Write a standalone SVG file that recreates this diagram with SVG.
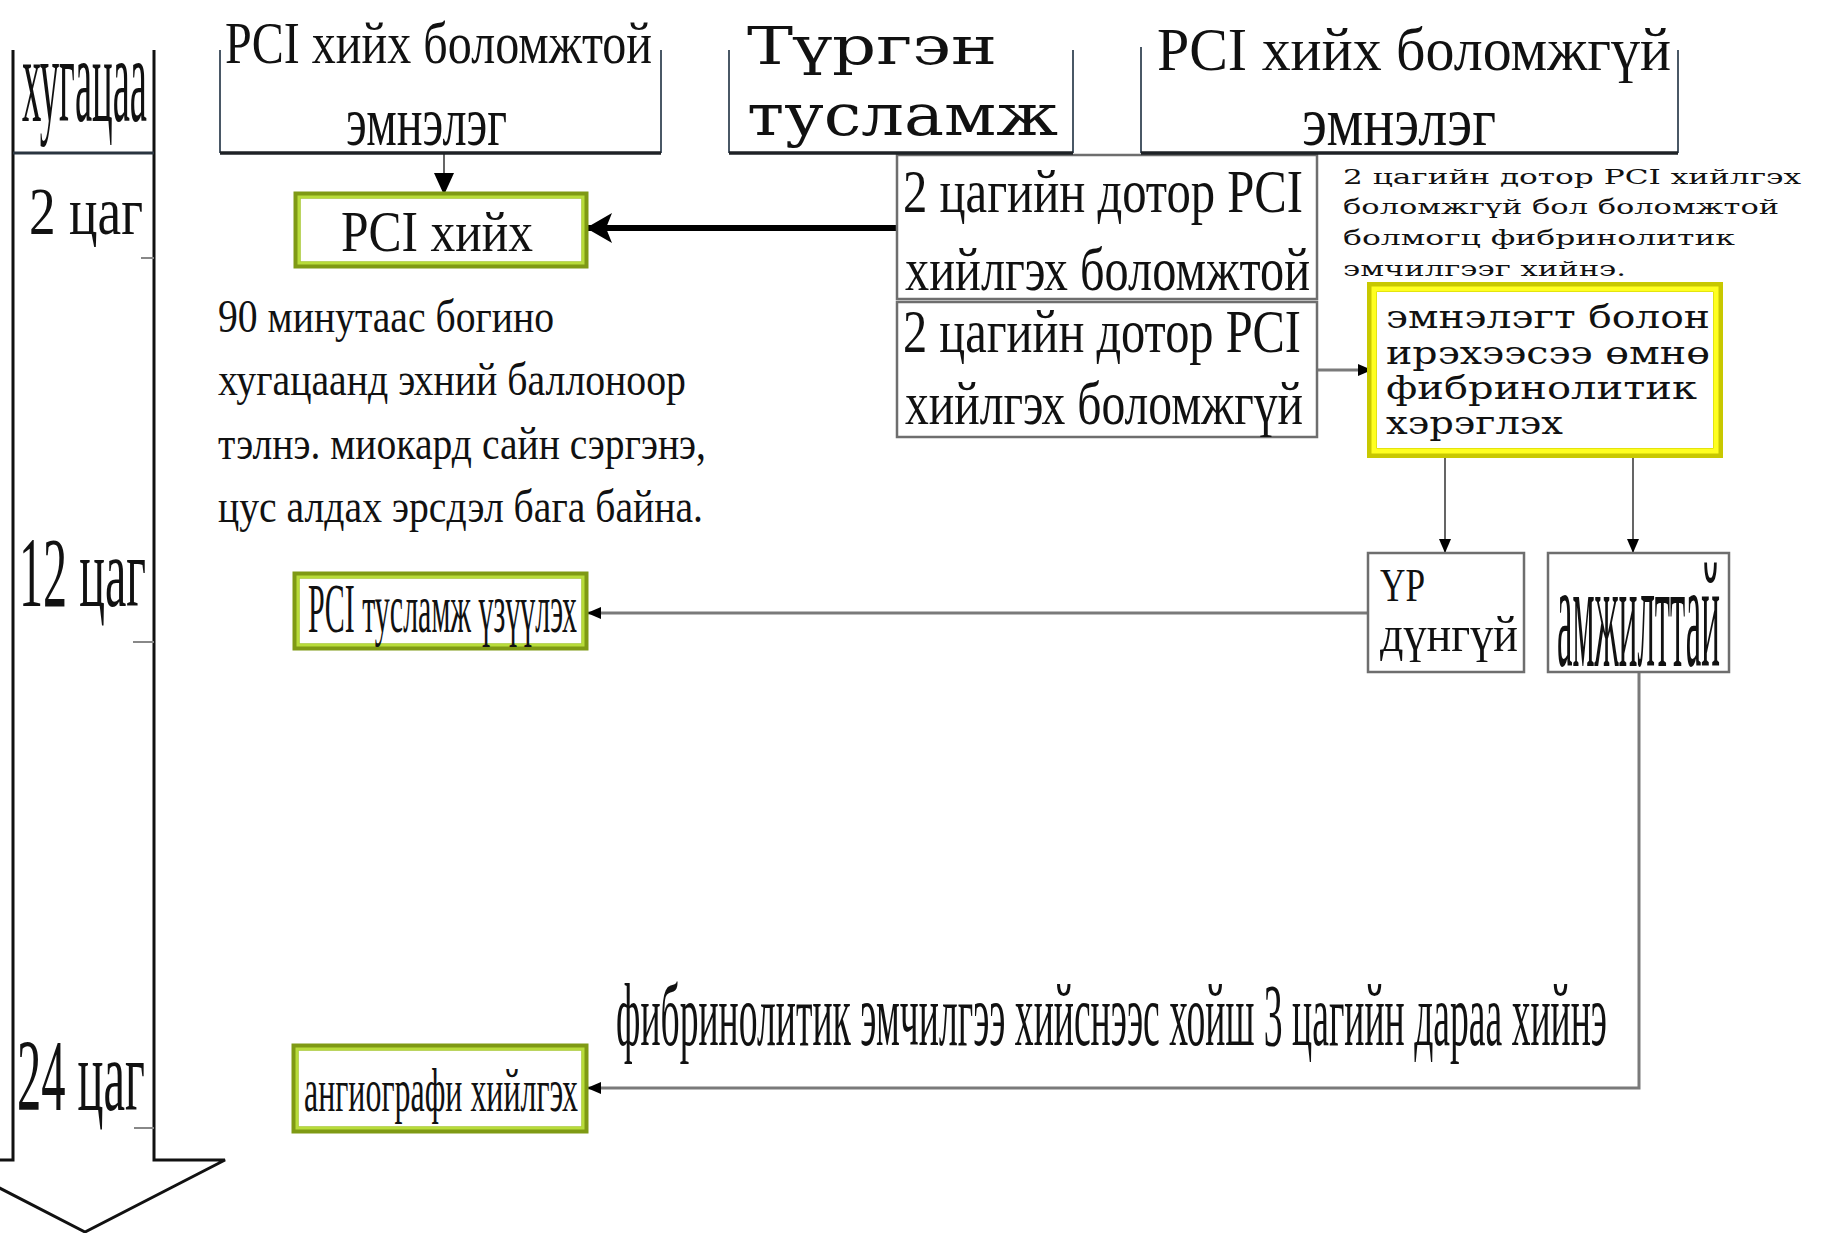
<svg xmlns="http://www.w3.org/2000/svg" width="1824" height="1233" viewBox="0 0 1824 1233">
<style>
.ts{font-family:"Liberation Serif","Times New Roman",serif;fill:#111}
.ws{font-family:"DejaVu Serif","Liberation Serif",serif;fill:#111}
.br{fill:none;stroke:#4a5866;stroke-width:2}
.brb{fill:none;stroke:#1e2226;stroke-width:3.5}
.box{fill:#fff;stroke:#6e6e6e;stroke-width:2.5}
.gOut{fill:#fff;stroke:#7f9a14;stroke-width:7}
.gIn{fill:none;stroke:#b8dc3a;stroke-width:3}
.yOut{fill:#fff;stroke:#c8c800;stroke-width:10}
.yIn{fill:none;stroke:#ffff20;stroke-width:5}
.con{fill:none;stroke:#7a7a7a;stroke-width:3}
.thin{fill:none;stroke:#555;stroke-width:1.8}
.tick{stroke:#888;stroke-width:2}
</style>
<defs>
<marker id="big" markerUnits="userSpaceOnUse" viewBox="0 0 26 30" refX="25" refY="15" markerWidth="26" markerHeight="30" orient="auto">
<path d="M0,0 L26,15 L0,30 L6,15 z" fill="#000"/>
</marker>
<marker id="mid" markerUnits="userSpaceOnUse" viewBox="0 0 22 20" refX="22" refY="10" markerWidth="22" markerHeight="20" orient="auto">
<path d="M0,0 L22,10 L0,20 z" fill="#000"/>
</marker>
<marker id="sm" markerUnits="userSpaceOnUse" viewBox="0 0 14 12" refX="14" refY="6" markerWidth="14" markerHeight="12" orient="auto">
<path d="M0,0 L14,6 L0,12 z" fill="#000"/>
</marker>
</defs>
<rect width="1824" height="1233" fill="#fff"/>

<g id="time-axis">
<path d="M13,50 V1160 H-55 L85,1232 L225,1160 H154 V50" fill="none" stroke="#111" stroke-width="3"/>
<line x1="13" y1="153" x2="154" y2="153" stroke="#2a3540" stroke-width="3"/>
<line class="tick" x1="141" y1="258" x2="154" y2="258"/>
<line class="tick" x1="133" y1="642" x2="154" y2="642"/>
<line class="tick" x1="134" y1="1128" x2="154" y2="1128"/>
<text class="ts" x="22" y="121" font-size="122" textLength="125" lengthAdjust="spacingAndGlyphs">хугацаа</text>
<text class="ts" x="29" y="234" font-size="68" textLength="114" lengthAdjust="spacingAndGlyphs">2 цаг</text>
<text class="ts" x="19" y="606" font-size="100" textLength="127" lengthAdjust="spacingAndGlyphs">12 цаг</text>
<text class="ts" x="17" y="1110" font-size="102" textLength="128" lengthAdjust="spacingAndGlyphs">24 цаг</text>
</g>

<g id="connectors">
<line class="thin" x1="444" y1="153" x2="444" y2="195" marker-end="url(#mid)"/>
<line x1="897" y1="228" x2="587" y2="228" stroke="#000" stroke-width="6" marker-end="url(#big)"/>
<line class="con" x1="1317" y1="370" x2="1372" y2="370" marker-end="url(#sm)"/>
<line class="thin" x1="1445" y1="453" x2="1445" y2="553" marker-end="url(#sm)"/>
<line class="thin" x1="1633" y1="453" x2="1633" y2="553" marker-end="url(#sm)"/>
<line class="con" x1="1368" y1="613" x2="587" y2="613" marker-end="url(#sm)"/>
<polyline class="con" points="1639,672 1639,1088 587,1088" marker-end="url(#sm)"/>
</g>

<g id="box-a">
<rect class="box" x="897" y="155" width="420" height="144"/>
<text class="ts" x="903" y="212" font-size="62" textLength="400" lengthAdjust="spacingAndGlyphs">2 цагийн дотор PCI</text>
<text class="ts" x="905" y="290" font-size="62" textLength="405" lengthAdjust="spacingAndGlyphs">хийлгэх боломжтой</text>
</g>

<g id="box-b">
<rect class="box" x="897" y="302" width="420" height="135"/>
<text class="ts" x="903" y="352" font-size="62" textLength="398" lengthAdjust="spacingAndGlyphs">2 цагийн дотор PCI</text>
<text class="ts" x="905" y="424" font-size="62" textLength="398" lengthAdjust="spacingAndGlyphs">хийлгэх боломжгүй</text>
</g>

<g id="header-pci-possible">
<polyline class="br" points="220,50 220,153"/>
<polyline class="br" points="661,50 661,153"/>
<line class="brb" x1="220" y1="153" x2="661" y2="153"/>
<text class="ts" x="225" y="63" font-size="60" textLength="427" lengthAdjust="spacingAndGlyphs">PCI хийх боломжтой</text>
<text class="ts" x="346" y="145" font-size="70" textLength="161" lengthAdjust="spacingAndGlyphs">эмнэлэг</text>
</g>

<g id="header-ambulance">
<polyline class="br" points="729,50 729,153"/>
<polyline class="br" points="1073,50 1073,153"/>
<line class="brb" x1="729" y1="153" x2="1073" y2="153"/>
<text class="ws" x="747" y="64" font-size="52" textLength="250" lengthAdjust="spacingAndGlyphs">Түргэн</text>
<text class="ws" x="747" y="135" font-size="58" textLength="311" lengthAdjust="spacingAndGlyphs">тусламж</text>
</g>

<g id="header-pci-impossible">
<polyline class="br" points="1141,47 1141,153"/>
<polyline class="br" points="1678,50 1678,153"/>
<line class="brb" x1="1141" y1="153" x2="1678" y2="153"/>
<text class="ts" x="1157" y="70" font-size="62" textLength="514" lengthAdjust="spacingAndGlyphs">PCI хийх боломжгүй</text>
<text class="ts" x="1302" y="145" font-size="70" textLength="194" lengthAdjust="spacingAndGlyphs">эмнэлэг</text>
</g>

<g id="pci-do">
<rect class="gOut" x="297" y="195" width="288" height="70"/>
<rect class="gIn" x="299" y="197" width="284" height="66"/>
<text class="ts" x="341" y="251" font-size="58" textLength="192" lengthAdjust="spacingAndGlyphs">PCI хийх</text>
</g>

<g id="note-90min">
<text class="ts" x="218" y="332" font-size="46" textLength="336" lengthAdjust="spacingAndGlyphs">90 минутаас богино</text>
<text class="ts" x="218" y="395" font-size="46" textLength="468" lengthAdjust="spacingAndGlyphs">хугацаанд эхний баллоноор</text>
<text class="ts" x="218" y="459" font-size="46" textLength="488" lengthAdjust="spacingAndGlyphs">тэлнэ. миокард сайн сэргэнэ,</text>
<text class="ts" x="218" y="522" font-size="46" textLength="485" lengthAdjust="spacingAndGlyphs">цус алдах эрсдэл бага байна.</text>
</g>

<g id="note-2h">
<text class="ws" x="1343" y="184" font-size="21" textLength="458" lengthAdjust="spacingAndGlyphs" fill="#222">2 цагийн дотор PCI хийлгэх</text>
<text class="ws" x="1343" y="214" font-size="21" textLength="436" lengthAdjust="spacingAndGlyphs" fill="#222">боломжгүй бол боломжтой</text>
<text class="ws" x="1343" y="245" font-size="21" textLength="392" lengthAdjust="spacingAndGlyphs" fill="#222">болмогц фибринолитик</text>
<text class="ws" x="1343" y="276" font-size="21" textLength="283" lengthAdjust="spacingAndGlyphs" fill="#222">эмчилгээг хийнэ.</text>
</g>

<g id="fibrinolytic">
<rect class="yOut" x="1372" y="287" width="346" height="166"/>
<rect class="yIn" x="1374" y="289" width="342" height="162"/>
<text class="ws" x="1386" y="328" font-size="32" textLength="324" lengthAdjust="spacingAndGlyphs">эмнэлэгт болон</text>
<text class="ws" x="1386" y="364" font-size="32" textLength="324" lengthAdjust="spacingAndGlyphs">ирэхээсээ өмнө</text>
<text class="ws" x="1386" y="399" font-size="32" textLength="311" lengthAdjust="spacingAndGlyphs">фибринолитик</text>
<text class="ws" x="1386" y="434" font-size="32" textLength="177" lengthAdjust="spacingAndGlyphs">хэрэглэх</text>
</g>

<g id="no-result">
<rect class="box" x="1368" y="553" width="156" height="119"/>
<text class="ts" x="1380" y="601" font-size="46" textLength="45" lengthAdjust="spacingAndGlyphs">ҮР</text>
<text class="ts" x="1380" y="651" font-size="50" textLength="138" lengthAdjust="spacingAndGlyphs">дүнгүй</text>
</g>

<g id="success">
<rect class="box" x="1548" y="553" width="181" height="119"/>
<text class="ts" x="1557" y="666" font-size="150" textLength="163" lengthAdjust="spacingAndGlyphs">амжилттай</text>
</g>

<g id="pci-help">
<rect class="gOut" x="296" y="575" width="289" height="72"/>
<rect class="gIn" x="298" y="577" width="285" height="68"/>
<text class="ts" x="308" y="632" font-size="70" textLength="269" lengthAdjust="spacingAndGlyphs">PCI тусламж үзүүлэх</text>
</g>

<g id="angiography">
<rect class="gOut" x="295" y="1047" width="290" height="83"/>
<rect class="gIn" x="297" y="1049" width="286" height="79"/>
<text class="ts" x="304" y="1111" font-size="61" textLength="274" lengthAdjust="spacingAndGlyphs">ангиографи хийлгэх</text>
</g>

<g id="note-3h">
<text class="ts" x="616" y="1045" font-size="88" textLength="991" lengthAdjust="spacingAndGlyphs">фибринолитик эмчилгээ хийснээс хойш 3 цагийн дараа хийнэ</text>
</g>
</svg>
